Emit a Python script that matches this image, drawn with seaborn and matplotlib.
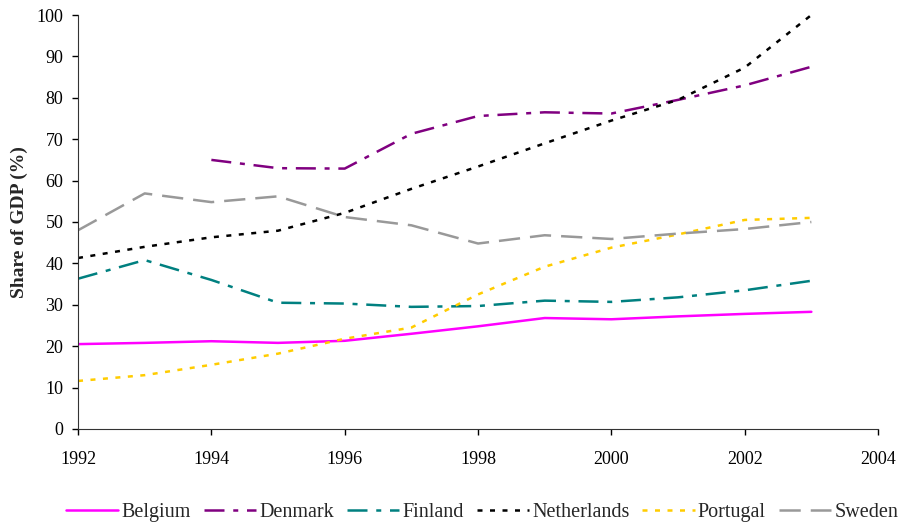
import seaborn as sns
import pandas as pd
import numpy as np
import matplotlib.pyplot as plt

sns.set_style("ticks")
plt.rcParams['font.family'] = ['Liberation Serif', 'DejaVu Serif']

years = list(range(1992, 2004))
countries = ['Belgium', 'Denmark', 'Finland', 'Netherlands', 'Portugal', 'Sweden']

belgium = [20.5, 20.8, 21.2, 20.8, 21.3, 23.0, 24.8, 26.8, 26.5, 27.2, 27.8, 28.3]
denmark = [np.nan, np.nan, 65.0, 63.0, 62.9, 71.3, 75.6, 76.5, 76.2, 79.5, 83.0, 87.5]
finland = [36.3, 40.8, 36.0, 30.5, 30.3, 29.5, 29.7, 31.0, 30.7, 31.8, 33.5, 35.8]
netherlands = [41.3, 44.0, 46.3, 47.9, 52.2, 58.0, 63.4, 69.0, 74.5, 79.5, 87.3, 100.0]
portugal = [11.6, 13.0, 15.5, 18.2, 21.8, 24.5, 32.5, 39.2, 43.8, 47.0, 50.5, 51.0]
sweden = [48.0, 56.9, 54.8, 56.2, 51.2, 49.2, 44.8, 46.8, 45.9, 47.2, 48.3, 50.0]

# long form table for seaborn
series = [belgium, denmark, finland, netherlands, portugal, sweden]
df = pd.DataFrame({
    'year': years * len(countries),
    'country': [c for c in countries for _ in years],
    'share': [v for s in series for v in s],
}).dropna()

colors = {'Belgium': '#FF00FF', 'Denmark': '#800080', 'Finland': '#008080',
          'Netherlands': '#000000', 'Portugal': '#FFCC00', 'Sweden': '#999999'}
dashes = {'Belgium': '', 'Denmark': (8, 3.5, 2, 3.5), 'Finland': (8, 3.5, 2, 3.5),
          'Netherlands': (2, 3), 'Portugal': (2, 3), 'Sweden': (8.5, 4)}

fig = plt.figure(figsize=(9.01, 5.25), dpi=100)
ax = fig.add_axes([0.0866, 0.1829, 0.8879, 0.7885])

sns.lineplot(data=df, x='year', y='share', hue='country', style='country',
             hue_order=countries, style_order=countries,
             palette=colors, dashes=dashes, linewidth=1.8, ax=ax)

ax.set_xlim(1992, 2004)
ax.set_ylim(0, 100)
ax.set_xticks(range(1992, 2005, 2))
ax.set_yticks(range(0, 101, 10))
ax.tick_params(labelsize=13, direction='out', width=1, colors='#000000')
ax.tick_params(axis='y', length=4.5, pad=6)
ax.tick_params(axis='x', length=4, pad=12)
ax.set_xlabel('')
ax.set_ylabel('Share of GDP (%)', fontsize=14, fontweight='bold', labelpad=6)
sns.despine(ax=ax)
for sp in ['left', 'bottom']:
    ax.spines[sp].set_color('#333333')

leg = ax.legend(loc='upper center', bbox_to_anchor=(0.505, -0.168), ncol=6,
                frameon=False, fontsize=14.5, handlelength=2.6,
                columnspacing=0.65, handletextpad=0.15,
                borderaxespad=0, borderpad=0.2)

fig.savefig('out.png', dpi=100)
